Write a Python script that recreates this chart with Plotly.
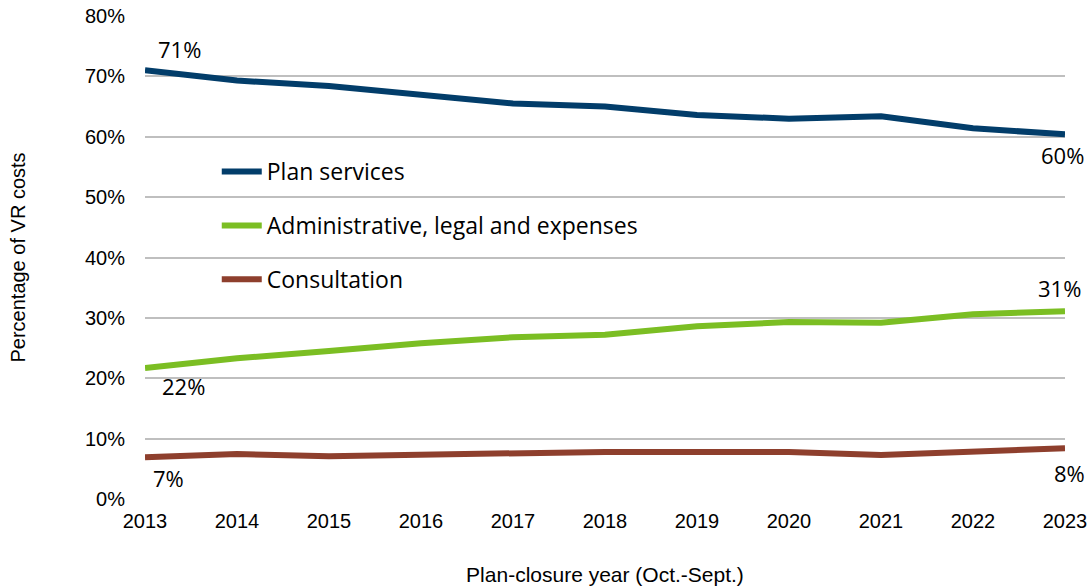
import plotly.graph_objects as go

# Share of voluntary-retirement costs by category, plan-closure years 2013-2023
years = [2013, 2014, 2015, 2016, 2017, 2018, 2019, 2020, 2021, 2022, 2023]
plan_services = [71.0, 69.3, 68.4, 67.0, 65.5, 65.0, 63.6, 63.0, 63.4, 61.4, 60.4]
admin_legal = [21.7, 23.3, 24.5, 25.8, 26.8, 27.2, 28.6, 29.3, 29.2, 30.6, 31.1]
consultation = [6.9, 7.45, 7.1, 7.3, 7.7, 7.8, 7.8, 7.8, 7.3, 7.9, 8.4]
series_names = ["Plan services", "Administrative, legal and expenses", "Consultation"]

# styling: colour and pixel offsets of the first/last value labels
colors = ["#023D6A", "#7BBE23", "#8E3F2D"]
label_offsets = [
    ((34, 21), (-3, -21)),
    ((38, -18), (-6, 23)),
    ((23, -21), (4, -25)),
]

label_font = "'Open Sans', 'Noto Sans', sans-serif"
axis_font = "'Liberation Sans', Arial, sans-serif"

fig = go.Figure()
annotations = []
for name, vals, color, offsets in zip(series_names,
                                      [plan_services, admin_legal, consultation],
                                      colors, label_offsets):
    fig.add_trace(go.Scatter(
        x=years, y=vals, name=name, mode="lines",
        line=dict(color=color, width=6),
        legendgroup=name,
    ))
    # value labels at the first and last year
    for idx, (dx, dy) in zip((0, -1), offsets):
        annotations.append(dict(
            x=years[idx], y=vals[idx], xref="x", yref="y",
            text=f"{round(vals[idx])}%", showarrow=False,
            xshift=dx, yshift=dy,
            font=dict(family=label_font, size=22, color="#000000"),
        ))

fig.update_layout(
    width=1091, height=586,
    margin=dict(l=145, r=26, t=16, b=87),
    paper_bgcolor="white", plot_bgcolor="white",
    showlegend=True,
    annotations=annotations,
    legend=dict(
        x=0.078, y=0.7225, xanchor="left", yanchor="top",
        font=dict(family=label_font, size=23, color="#000000"),
        bgcolor="rgba(0,0,0,0)", tracegroupgap=21,
        itemwidth=40,
    ),
    xaxis=dict(
        range=[2013, 2023], tickvals=years, ticktext=[str(y) for y in years],
        automargin=False,
        showgrid=False, zeroline=False, showline=False, ticks="",
        tickfont=dict(family=axis_font, size=20, color="#000000"),
        ticklabelstandoff=8,
        title=dict(text="Plan-closure year (Oct.-Sept.)", standoff=36,
                   font=dict(family=axis_font, size=21, color="#000000")),
    ),
    yaxis=dict(
        range=[0, 80], dtick=10, ticksuffix="%",
        automargin=False,
        showgrid=True, gridcolor="#BFBFBF", gridwidth=1.5,
        zeroline=False, showline=False, ticks="",
        tickfont=dict(family=axis_font, size=20, color="#000000"),
        ticklabelstandoff=19,
        title=dict(text="Percentage of VR costs", standoff=53,
                   font=dict(family=axis_font, size=20, color="#000000")),
    ),
)

fig.write_html("out.html")
